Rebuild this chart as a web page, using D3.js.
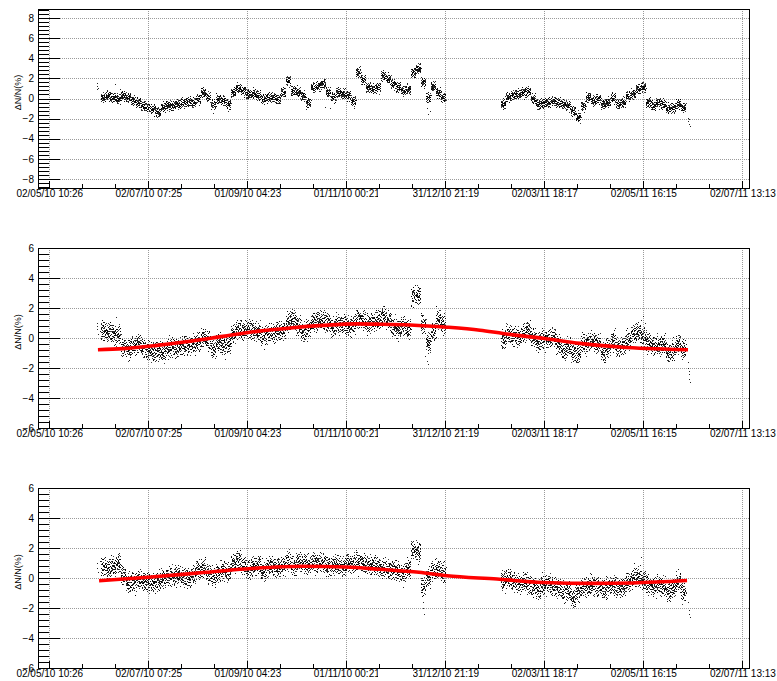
<!DOCTYPE html>
<html>
<head>
<meta charset="utf-8">
<script src="https://cdn.jsdelivr.net/npm/d3@7"></script>
<style>
  body { margin: 0; background: #fff; }
  svg { display: block; }
</style>
</head>
<body>
<svg id="chart" width="777" height="681"></svg>
<script>
// ---- Time axis -------------------------------------------------------------
const tickLabels = ["02/05/10 10:26", "02/07/10 07:25", "01/09/10 04:23", "01/11/10 00:21",
                    "31/12/10 21:19", "02/03/11 18:17", "02/05/11 16:15", "02/07/11 13:13"];
const axisStart = "2010-04-25 11:38";
const axisEnd   = "2011-07-07 05:38";
// time origin of the series (days are counted from here)
const epochLabel = "2010-05-02 10:26";

// ---- Series: binned counting-rate deviation, days since epoch -------------
const binDays = [33.0, 36.1, 39.2, 42.2, 45.3, 48.4, 51.5, 54.5, 57.6, 60.7, 63.8, 66.8, 69.9, 73.0,
  76.1, 79.1, 82.2, 85.3, 88.4, 91.4, 94.5, 97.6, 100.7, 103.7, 106.8, 109.9, 113.0, 116.0, 119.1,
  122.2, 125.3, 128.3, 131.4, 134.5, 137.6, 140.6, 143.7, 146.8, 149.9, 152.9, 156.0, 159.1, 162.2,
  165.2, 168.3, 171.4, 174.5, 177.5, 180.6, 183.7, 186.8, 189.8, 192.9, 196.0, 199.1, 202.1, 205.2,
  208.3, 211.4, 214.4, 217.5, 220.6, 223.7, 226.7, 229.8, 232.9, 236.0, 239.0, 242.1,
  279.0, 282.0, 285.1, 288.2, 291.3, 294.3, 297.4, 300.5, 303.6, 306.6, 309.7, 312.8, 315.9, 318.9,
  322.0, 325.1, 328.2, 331.2, 334.3, 337.4, 340.5, 343.5, 346.6, 349.7, 352.8, 355.8, 358.9, 362.0,
  365.1, 368.1, 371.2, 374.3, 377.4, 380.4, 383.5, 386.6, 389.7];

// raw ΔN/N (%)
const rawValues = [0.13, 0.3, 0.13, -0.03, 0.3, 0.13, -0.2, -0.37, -0.7, -0.86, -1.03, -1.36, -0.86,
  -0.63, -0.7, -0.53, -0.37, -0.3, -0.37, -0.03, 0.63, 0.13, -0.53, -0.03, -0.2, -0.53, 0.63, 1.03,
  0.8, 0.47, 0.47, 0.37, -0.03, 0.13, 0.13, -0.03, 0.63, 1.8, 0.8, 0.63, 0.3, -0.37, 1.13, 1.3, 1.46,
  0.63, 0.13, 0.63, 0.47, 0.3, -0.2, 2.6, 1.9, 1.13, 0.96, 1.13, 2.3, 1.96, 1.46, 1.13, 0.8, 0.96,
  2.6, 3.0, 1.63, 0.13, 1.2, 0.6, 0.13,
  -0.53, 0.13, 0.37, 0.47, 0.63, 0.7, -0.03, -0.53, -0.45, -0.37, -0.2, -0.37, -0.53, -0.7, -1.2,
  -1.86, -0.7, 0.13, -0.2, -0.03, -0.53, -0.37, 0.13, -0.53, -0.37, 0.3, 0.47, 0.96, 1.13, -0.37,
  -0.7, -0.37, -0.53, -1.03, -0.86, -0.53, -0.86];

// ΔN/N (%) after pressure correction
const pressureValues = [0.51, 0.4, 0.29, 0.18, -0.6, -0.71, -0.49, -0.38, -0.6, -0.82, -0.93, -0.82,
  -0.93, -0.71, -0.6, -0.6, -0.49, -0.49, -0.38, -0.27, 0.07, -0.16, -0.71, -0.27, -0.49, -0.38,
  0.29, 0.62, 0.51, 0.62, 0.51, 0.4, 0.18, 0.29, 0.29, 0.51, 0.51, 1.07, 1.29, 0.84, 0.4, 0.62,
  1.07, 1.18, 1.18, 1.07, 0.73, 0.96, 0.96, 0.73, 0.96, 1.29, 1.18, 0.96, 1.07, 1.29, 1.51, 1.18,
  0.73, 0.62, 0.84, 0.62, 2.84, 2.84, 0.96, -0.27, 0.4, 1.29, 0.96,
  -0.04, 0.29, 0.18, 0.07, 0.29, 0.51, 0.07, -0.27, -0.04, -0.04, 0.07, -0.38, -0.82, -0.6, -0.93,
  -1.04, -0.38, -0.27, -0.16, -0.38, -0.93, -0.6, -0.16, -0.6, -0.49, -0.16, 0.29, 0.4, 0.07,
  -0.27, -0.49, -0.49, -0.38, -0.93, -0.82, -0.38, -0.71];

// ΔN/N (%) after pressure and temperature correction
const fullValues = [0.78, 0.67, 0.78, 1.0, 0.22, -0.33, -0.22, -0.11, -0.22, -0.22, -0.33, -0.22, 0,
  0.11, 0.11, 0.22, 0.11, 0, 0.22, 0.56, 0.67, 0.33, 0.11, 0.33, 0.56, 0.44, 1.0, 1.22, 0.89, 0.56,
  0.78, 0.89, 0.44, 0.78, 0.78, 0.67, 0.89, 1.22, 0.78, 1.11, 1.0, 0.89, 1.11, 1.0, 1.0, 0.78, 0.89,
  0.89, 0.78, 1.0, 1.0, 1.11, 1.0, 0.89, 0.89, 0.78, 0.67, 0.56, 0.56, 0.44, 0.33, 0.67, 1.89, 1.78,
  -0.56, 0, 0.56, 0.67, 0.33,
  -0.11, 0, -0.22, -0.33, -0.22, -0.44, -0.56, -0.78, -0.44, -0.33, -0.56, -0.67, -0.89, -0.89,
  -1.33, -0.89, -0.56, -0.56, -0.44, -0.56, -0.78, -0.56, -0.44, -0.67, -0.56, -0.22, 0, 0.11,
  -0.11, -0.44, -0.56, -0.44, -0.56, -0.89, -0.67, -0.22, -0.89];

// isolated readings outside the main band (days, value)
const rawOutDays  = [29.3, 29.3, 29.3, 29.9, 40.4, 43.5, 100.7, 109.9, 157.8, 169.5, 172.6, 187.3,
  232.9, 234.1, 232.2, 325.1, 392.7, 392.7, 393.3, 393.9, 393.3, 300.5, 365.1, 363.8, 227.9, 191.0, 146.8];
const rawOutVals  = [1.5, 1.2, 0.9, 1.0, 1.4, 0.9, -1.4, -1.2, -1.0, -0.8, -0.9, -0.9,
  -1.5, -1.2, -0.9, -2.1, -1.9, -2.2, -2.5, -2.7, -2.0, -1.0, 1.6, 1.5, 3.5, 3.2, 2.1];
const presOutDays = [29.3, 29.3, 29.3, 29.9, 41.0, 100.7, 108.0, 148.0, 151.7, 232.9, 231.0, 232.2,
  234.1, 279.0, 321.4, 340.5, 365.1, 363.8, 366.3, 380.4, 392.7, 392.7, 393.3, 393.9, 393.3, 393.3];
const presOutVals = [1.0, 0.6, 0.8, 0.3, 1.4, -1.2, -1.4, 1.8, 1.5, -1.7, -1.2, -1.5,
  -0.8, -0.6, -1.4, -1.4, 1.5, 1.2, 1.0, -1.5, -1.6, -2.0, -2.4, -2.9, -2.7, -2.2];
const fullOutDays = [29.3, 29.3, 29.9, 42.2, 86.5, 97.6, 113.0, 140.6, 229.8, 230.4, 229.8, 229.1,
  224.2, 279.0, 322.0, 363.2, 363.8, 380.4, 392.7, 393.3, 393.3, 393.9];
const fullOutVals = [1.0, 0.7, 0.4, 1.6, -0.5, -0.4, 1.6, 1.3, -1.6, -2.4, -2.0, -1.2,
  2.3, -0.6, -1.8, 0.9, 1.4, -1.3, -1.6, -2.1, -2.4, -2.6];

// fitted seasonal trend (days, value)
const presFitDays = [29.9, 45.3, 66.2, 86.5, 106.8, 127.7, 148.0, 168.3, 189.2, 203.3, 221.8,
  244.5, 264.8, 279.0, 303.6, 326.3, 350.9, 367.5, 392.7];
const presFitVals = [-0.78, -0.71, -0.49, -0.22, 0.11, 0.44, 0.67, 0.84, 0.94, 0.92, 0.87,
  0.72, 0.52, 0.3, -0.02, -0.36, -0.6, -0.7, -0.78];
const fullFitDays = [30.6, 60.7, 96.3, 120.3, 156.0, 182.4, 203.3, 227.3, 244.5, 275.3, 303.6,
  334.9, 358.9, 392.1];
const fullFitVals = [-0.18, 0.05, 0.38, 0.6, 0.78, 0.73, 0.58, 0.38, 0.15, -0.07, -0.3,
  -0.36, -0.33, -0.17];

// ---- Drawing --------------------------------------------------------------
const FONT = "'Liberation Sans', Arial, Helvetica, sans-serif";
const svg = d3.select("#chart");
const parseTick = d3.utcParse("%d/%m/%y %H:%M");
const parseIso = d3.utcParse("%Y-%m-%d %H:%M");
const epoch = parseIso(epochLabel).getTime();
const dayToDate = d => new Date(epoch + d * 864e5);
const tickDates = tickLabels.map(parseTick);

const x = d3.scaleUtc().domain([parseIso(axisStart), parseIso(axisEnd)]).range([38, 750]);
const binWidth = 3.074;

// minor time ticks: two between consecutive labelled ticks
const minorDates = [];
for (let i = 0; i < tickDates.length - 1; i++) {
  const a = tickDates[i].getTime(), b = tickDates[i + 1].getTime();
  minorDates.push(new Date(a + (b - a) / 3), new Date(a + 2 * (b - a) / 3));
}

const panels = [
  { top: 9,   bottom: 188, yDomain: [-8.9, 8.9], yTicks: d3.range(-8, 8.01, 2), minorLim: 8.8,
    values: rawValues, band: 0.4, dots: 40, outDays: rawOutDays, outVals: rawOutVals },
  { top: 248, bottom: 428, yDomain: [-6, 6], yTicks: d3.range(-6, 6.01, 2), minorLim: 6,
    values: pressureValues, band: 0.52, dots: 46, outDays: presOutDays, outVals: presOutVals,
    fitDays: presFitDays, fitVals: presFitVals },
  { top: 488, bottom: 668, yDomain: [-6, 6], yTicks: d3.range(-6, 6.01, 2), minorLim: 6,
    values: fullValues, band: 0.52, dots: 46, outDays: fullOutDays, outVals: fullOutVals,
    fitDays: fullFitDays, fitVals: fullFitVals }
];

const fmtY = v => (v < 0 ? "\u2212" : "") + Math.abs(Math.round(v));
// radical-inverse (Halton) sequence used to lay out the readings inside a bin
function halton(n, base) {
  let f = 1, r = 0;
  while (n > 0) { f /= base; r += f * (n % base); n = Math.floor(n / base); }
  return r;
}

panels.forEach((p, pi) => {
  const y = d3.scaleLinear().domain(p.yDomain).range([p.bottom, p.top]);
  const g = svg.append("g");

  // dotted grid at the labelled ticks
  const grid = g.append("g").attr("stroke", "#9a9a9a").attr("stroke-width", 1)
    .attr("stroke-dasharray", "1,1").attr("shape-rendering", "crispEdges");
  tickDates.forEach(t => {
    const xx = Math.round(x(t)) + 0.5;
    grid.append("line").attr("x1", xx).attr("x2", xx).attr("y1", p.top).attr("y2", p.bottom);
  });
  p.yTicks.forEach(v => {
    const yy = Math.round(y(v)) + 0.5;
    grid.append("line").attr("x1", 38).attr("x2", 750).attr("y1", yy).attr("y2", yy);
  });

  // data cloud: the readings of each bin spread around the bin value
  const pts = [];
  p.values.forEach((v, i) => {
    for (let k = 0; k < p.dots; k++) {
      const n = i * p.dots + k + 1 + pi * 7919;
      const u = halton(n, 2);
      const a = halton(n, 3);
      const b = halton(n, 5);
      const wide = (k % 9 === 4) ? 1.9 : 1.45;
      pts.push({
        t: binDays[i] + (u - 0.5) * binWidth,
        v: v + p.band * (a + b - 1) * wide,
        o: 0.72 + 0.28 * halton(n, 7)
      });
    }
  });
  p.outDays.forEach((d, i) => pts.push({ t: d, v: p.outVals[i], o: 0.85 }));

  g.append("g").selectAll("rect").data(pts).join("rect")
    .attr("x", d => Math.round(x(dayToDate(d.t))))
    .attr("y", d => Math.round(y(d.v)))
    .attr("width", 1).attr("height", 1)
    .attr("fill", "#000").attr("fill-opacity", d => d.o);

  // fitted trend
  if (p.fitDays) {
    const line = d3.line().curve(d3.curveMonotoneX)
      .x(d => x(dayToDate(d))).y((d, i) => y(p.fitVals[i]));
    g.append("path").attr("d", line(p.fitDays)).attr("fill", "none")
      .attr("stroke", "#ff0000").attr("stroke-width", 3.6).attr("stroke-linecap", "butt");
  }

  // time axis (ticks pointing into the frame)
  const xAxis = d3.axisBottom(x).tickValues(tickDates).tickSize(-7).tickPadding(2)
    .tickFormat((d, i) => tickLabels[i]);
  const xa = g.append("g").attr("transform", `translate(0,${p.bottom})`).call(xAxis);
  const xMinor = d3.axisBottom(x).tickValues(minorDates).tickSize(-4).tickFormat("");
  const xm = g.append("g").attr("transform", `translate(0,${p.bottom})`).call(xMinor);

  // value axis
  const yAxis = d3.axisLeft(y).tickValues(p.yTicks).tickSize(-22).tickPadding(4).tickFormat(fmtY);
  const ya = g.append("g").attr("transform", "translate(38,0)").call(yAxis);
  const yMinorVals = d3.range(-p.minorLim, p.minorLim + 0.001, 0.4)
    .filter(v => Math.abs(v / 2 - Math.round(v / 2)) > 0.01);
  const yMinor = d3.axisLeft(y).tickValues(yMinorVals).tickSize(-11).tickFormat("");
  const ym = g.append("g").attr("transform", "translate(38,0)").call(yMinor);

  [xa, xm, ya, ym].forEach(s => {
    s.select(".domain").remove();
    s.attr("font-family", FONT);
    s.selectAll("line").attr("stroke", "#000").attr("shape-rendering", "crispEdges");
    s.selectAll("text").attr("font-size", 10).attr("fill", "#000");
  });
  xm.selectAll("text").remove();
  ym.selectAll("text").remove();

  // frame
  g.append("rect").attr("x", 38.5).attr("y", p.top + 0.5)
    .attr("width", 711).attr("height", p.bottom - p.top)
    .attr("fill", "none").attr("stroke", "#000").attr("stroke-width", 1)
    .attr("shape-rendering", "crispEdges");

  // blank box over the time labels between the 4th and 5th ticks
  g.append("rect").attr("x", 378).attr("y", p.bottom + 1).attr("width", 35).attr("height", 11)
    .attr("fill", "#fff");

  // axis title
  const cy = (p.top + p.bottom) / 2 - 6;
  g.append("text")
    .attr("x", 0).attr("y", 0)
    .attr("transform", `translate(21,${cy}) rotate(-90)`)
    .attr("text-anchor", "middle")
    .attr("font-family", FONT).attr("font-size", 9).attr("fill", "#000")
    .text("\u0394N/N(%)");
});
</script>
</body>
</html>
